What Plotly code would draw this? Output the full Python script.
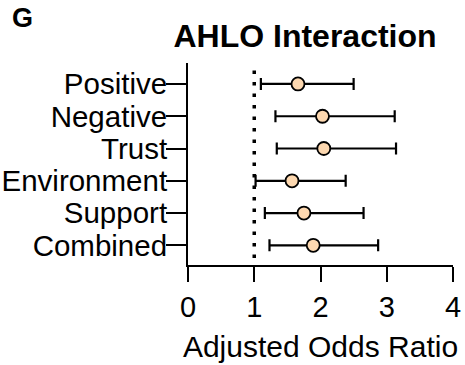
import plotly.graph_objects as go

categories = ["Positive", "Negative", "Trust", "Environment", "Support", "Combined"]
odds_ratio = [1.66, 2.03, 2.05, 1.57, 1.75, 1.89]
ci_low = [1.10, 1.32, 1.34, 1.02, 1.16, 1.23]
ci_high = [2.50, 3.12, 3.14, 2.38, 2.65, 2.87]
x_ticks = [0, 1, 2, 3, 4]

FONT = "Arial, Liberation Sans, sans-serif"

err_plus = [h - o for h, o in zip(ci_high, odds_ratio)]
err_minus = [o - l for o, l in zip(odds_ratio, ci_low)]

fig = go.Figure()
fig.add_shape(type="line", xref="x", yref="paper", x0=1, x1=1, y0=0.035, y1=1.0,
              line=dict(color="black", width=3.5, dash="3.5px,8px"), layer="below")
fig.add_trace(go.Scatter(
    x=odds_ratio, y=categories, mode="markers",
    marker=dict(size=13, color="#FDD8B0", line=dict(color="black", width=1.8)),
    error_x=dict(type="data", symmetric=False, array=err_plus, arrayminus=err_minus,
                 color="black", thickness=2.2, width=6),
    showlegend=False,
))

fig.update_layout(
    width=465, height=365,
    margin=dict(l=188, r=12, t=63, b=100),
    paper_bgcolor="white", plot_bgcolor="white",
    font=dict(family=FONT, color="black", size=29),
    title=dict(text="<b>AHLO Interaction</b>", x=305/465, xanchor="center",
               xref="container", yref="container", y=1-36/365, yanchor="middle",
               font=dict(size=32, family=FONT, color="black")),
    xaxis=dict(range=[0, 4], tickmode="array", tickvals=x_ticks, showgrid=False, zeroline=False,
               automargin=False,
               showline=True, linecolor="black", linewidth=2,
               ticks="outside", ticklen=15, tickwidth=2, tickcolor="black",
               tickfont=dict(size=29, family=FONT),
               title=dict(text="Adjusted Odds Ratio", font=dict(size=30, family=FONT), standoff=14)),
    yaxis=dict(type="category", categoryorder="array", categoryarray=categories,
               tickmode="array", tickvals=categories, automargin=False,
               range=[5.61, -0.65], showgrid=False, zeroline=False,
               showline=True, linecolor="black", linewidth=2,
               ticks="outside", ticklen=20, tickwidth=2, tickcolor="black",
               ticklabelstandoff=-7,
               tickfont=dict(size=29.5, family=FONT)),
    annotations=[dict(text="<b>G</b>", xref="paper", yref="paper",
                      x=(10-188)/265, y=(265-17.5)/202, xanchor="left", yanchor="middle",
                      showarrow=False, font=dict(size=27, family=FONT, color="black"))],
)

fig.write_html("out.html", config={"displayModeBar": False},
               post_script="document.body.style.margin='0';")
